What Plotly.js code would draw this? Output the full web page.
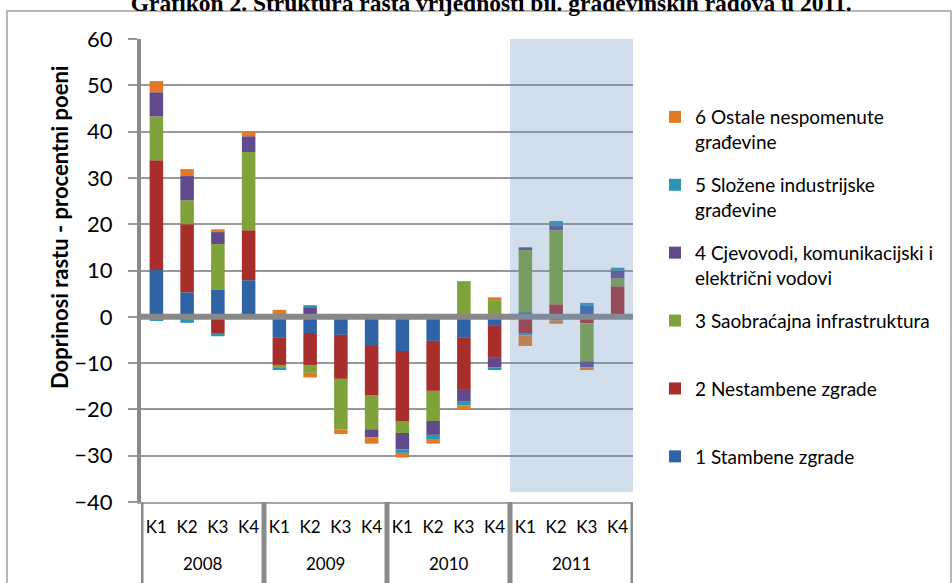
<!DOCTYPE html>
<html>
<head>
<meta charset="utf-8">
<script src="https://cdn.plot.ly/plotly-3.0.1.min.js"></script>
<style>html,body{margin:0;padding:0;background:#fff;}#chart{width:952px;height:583px;}</style>
</head>
<body>
<div id="chart"></div>
<script>
// ---- data ----
var years = ['2008', '2009', '2010', '2011'];
var quarters = ['K1', 'K2', 'K3', 'K4'];
var shadedYear = '2011';

var seriesNames = [
  '1 Stambene zgrade',
  '2 Nestambene zgrade',
  '3 Saobraćajna infrastruktura',
  '4 Cjevovodi, komunikacijski i<br>električni vodovi',
  '5 Složene industrijske<br>građevine',
  '6 Ostale nespomenute<br>građevine'
];

var stambene     = [10.1, 5.3, 5.8, 7.9,  -4.4, -3.5, -3.9, -6.1,  -7.4, -5.2, -4.4, -1.8,   1.0, -0.8,  2.5, 0.0];
var nestambene   = [23.7, 14.7, -3.5, 10.8, -6.0, -6.9, -9.5, -10.8, -15.1, -10.8, -11.2, -6.9, -3.5, 2.7, -1.4, 6.6];
var saobracajna  = [9.5, 5.2, 9.9, 16.9,   -0.5, -1.7, -10.9, -7.4, -2.6, -6.5, 7.7, 3.6,     13.4, 16.0, -8.2, 1.7];
var cjevovodi    = [5.2, 5.2, 2.6, 3.4,    0.0, 1.9, 0.0, -1.7,     -3.5, -3.0, -2.6, -2.2,   0.6, 0.9, -1.3, 1.7];
var slozene      = [-0.9, -1.3, -0.7, 0.0, -0.6, 0.6, 0.0, 0.0,     -0.8, -0.9, -0.9, -0.6,   -0.5, 1.1, 0.5, 0.6];
var ostale       = [2.4, 1.5, 0.6, 1.1,    1.5, -1.0, -1.0, -1.4,   -1.0, -1.0, -1.0, 0.6,    -2.3, -0.7, -0.6, 0.0];

var seriesValues = [stambene, nestambene, saobracajna, cjevovodi, slozene, ostale];
var seriesColors = ['#2f63a6', '#a82e2c', '#7fa23a', '#61498d', '#2d94b3', '#e27a25'];

// ---- category positions ----
var xIdx = [], xLabels = [], xYear = [];
years.forEach(function (y) { quarters.forEach(function (q) { xIdx.push(xIdx.length); xLabels.push(q); xYear.push(y); }); });
var nCat = xIdx.length;
var perYear = quarters.length;

var traces = seriesValues.map(function (vals, i) {
  var name = seriesNames[i];
  if (name.indexOf('<br>') < 0) name = name + '<br>\u00a0';
  return {
    type: 'bar',
    x: xIdx,
    y: vals,
    name: name,
    legendgroup: 'g' + i,
    legendrank: seriesValues.length - i,
    marker: { color: seriesColors[i], line: { width: 0 } },
    hoverinfo: 'skip'
  };
});

var L = 141, R = 952 - 633, T = 39, B = 81;
var W = 952 - L - R, H = 583 - T - B;
function px2paperX(p) { return (p - L) / W; }
function px2paperY(p) { return (583 - B - p) / H; }

var shapes = [
  { type: 'line', xref: 'paper', x0: 0, x1: 1, yref: 'y', y0: 0, y1: 0,
    line: { color: '#888888', width: 6 }, layer: 'above' },
  { type: 'rect', xref: 'x', x0: xYear.indexOf(shadedYear) - 0.5, x1: nCat - 0.5, yref: 'paper', y0: px2paperY(492), y1: 1,
    fillcolor: 'rgba(105,145,192,0.30)', line: { width: 0 }, layer: 'above' },
  { type: 'rect', xref: 'paper', x0: px2paperX(7), x1: px2paperX(951), yref: 'paper', y0: px2paperY(600), y1: px2paperY(11),
    fillcolor: 'rgba(0,0,0,0)', line: { color: '#a0a0a0', width: 1.5 }, layer: 'below' }
];
// year dividers below the axis
for (var k = 0; k <= years.length; k++) {
  shapes.push({ type: 'line', xref: 'x', x0: k * perYear - 0.5, x1: k * perYear - 0.5,
    yref: 'paper', y0: 0, y1: px2paperY(590), line: { color: '#8a8a8a', width: 5 }, layer: 'above' });
}

var annotations = years.map(function (y, k) {
  return { text: y, xref: 'x', x: k * perYear + (perYear - 1) / 2, yref: 'paper', y: px2paperY(563),
    xanchor: 'center', yanchor: 'middle', showarrow: false, font: { size: 17, color: '#000' } };
});
annotations.push({
  text: 'Doprinosi rastu - procentni poeni', textangle: -90,
  xref: 'paper', x: px2paperX(60), yref: 'paper', y: px2paperY(228),
  xanchor: 'center', yanchor: 'middle', showarrow: false,
  font: { size: 22, color: '#000', weight: 'bold' }
});

var layout = {
  width: 952, height: 583,
  margin: { l: L, r: R, t: T, b: B, pad: 0, autoexpand: false },
  paper_bgcolor: '#ffffff',
  plot_bgcolor: '#ffffff',
  barmode: 'relative',
  bargap: 0.56,
  font: { family: 'Lato, "Open Sans", sans-serif', color: '#000000' },
  title: {
    text: 'Grafikon 2. Struktura rasta vrijednosti bil. građevinskih radova u 2011.',
    font: { family: '"Liberation Serif", "Times New Roman", serif', size: 23.5, color: '#000', weight: 'bold' },
    x: 0.516, xanchor: 'center', xref: 'container',
    y: 0.996, yanchor: 'middle', yref: 'container'
  },
  xaxis: {
    range: [-0.5, nCat - 0.5],
    tickvals: xIdx,
    ticktext: xLabels,
    showline: true, linecolor: '#a6a6a6', linewidth: 2,
    ticks: '',
    ticklabelstandoff: 9,
    showgrid: false,
    zeroline: false,
    tickfont: { size: 17, color: '#000' }
  },
  yaxis: {
    range: [-40, 60],
    dtick: 10,
    showgrid: true, gridcolor: '#999999', gridwidth: 2,
    zeroline: false,
    showline: true, linecolor: '#8a8a8a', linewidth: 4,
    ticks: 'outside', ticklen: 9, tickwidth: 2, tickcolor: '#999999',
    ticklabelstandoff: 11,
    tickfont: { size: 22, color: '#000' }
  },
  legend: {
    x: px2paperX(655), xanchor: 'left',
    y: px2paperY(98), yanchor: 'top',
    traceorder: 'grouped',
    tracegroupgap: 15.5,
    valign: 'top',
    font: { size: 19, color: '#000' },
    bgcolor: 'rgba(0,0,0,0)'
  },
  showlegend: true,
  shapes: shapes,
  annotations: annotations
};

Plotly.newPlot('chart', traces, layout, { displayModeBar: false, staticPlot: true });
</script>
</body>
</html>
